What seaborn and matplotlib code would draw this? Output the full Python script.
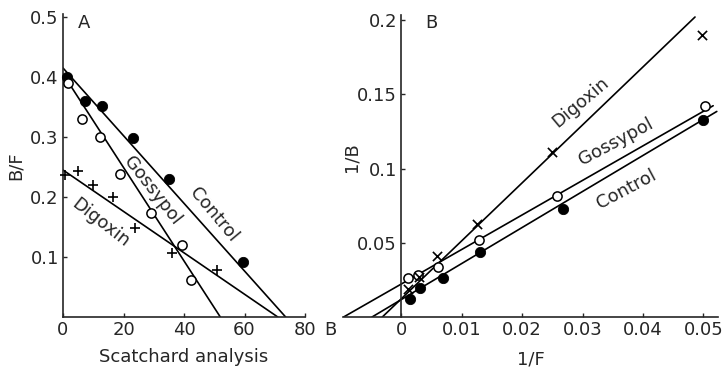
import numpy as np
import matplotlib
matplotlib.use("Agg")
import matplotlib.pyplot as plt
import matplotlib.transforms as mtransforms
import seaborn as sns

# Panel A: Scatchard analysis (B vs B/F)
a_control_b = [1.3, 7.3, 12.8, 23.0, 35.0, 59.5]
a_control_bf = [0.40, 0.36, 0.352, 0.298, 0.23, 0.092]
a_gossypol_b = [1.7, 6.2, 12.2, 18.8, 29.0, 39.4, 42.4]
a_gossypol_bf = [0.39, 0.33, 0.30, 0.238, 0.173, 0.12, 0.062]
a_digoxin_b = [0.7, 5.0, 10.0, 16.6, 23.8, 36.0, 51.0]
a_digoxin_bf = [0.237, 0.243, 0.22, 0.20, 0.148, 0.107, 0.078]
# fitted lines: (B/F intercept, B intercept)
a_lines = {"Control": (0.415, 73.6), "Gossypol": (0.405, 52.0), "Digoxin": (0.245, 71.0)}

# Panel B: double reciprocal (1/F vs 1/B)
b_control_x = [0.0015, 0.0031, 0.0069, 0.013, 0.0268, 0.05]
b_control_y = [0.012, 0.0195, 0.026, 0.044, 0.073, 0.133]
b_gossypol_x = [0.0012, 0.0028, 0.0061, 0.0129, 0.0258, 0.0502]
b_gossypol_y = [0.026, 0.028, 0.034, 0.052, 0.0815, 0.142]
b_digoxin_x = [0.0012, 0.003, 0.006, 0.0126, 0.025, 0.0497]
b_digoxin_y = [0.019, 0.027, 0.041, 0.063, 0.111, 0.19]
# fitted lines: (x intercept, slope, end x)
b_lines = {"Control": (-0.0048, 2.43, 0.0522), "Gossypol": (-0.0095, 2.33, 0.0516),
           "Digoxin": (-0.0031, 3.91, 0.0486)}

sns.set_style("ticks")
plt.rcParams["font.family"] = ["DejaVu Sans"]
FS = 13

fig = plt.figure(figsize=(7.24, 3.69), dpi=100)
W, H = 724, 369

def px_axes(x0, x1, y_top, y_bot):
    return fig.add_axes([x0 / W, 1 - y_bot / H, (x1 - x0) / W, (y_bot - y_top) / H])

lw = 1.2
ms = 55

# ---- Panel A ----
ax = px_axes(63, 305, 14, 317)
ax.set_xlim(0, 80)
ax.set_ylim(0, 0.505)
for name, (yi, xi) in a_lines.items():
    sns.lineplot(x=[0, xi], y=[yi, 0], ax=ax, color="black", lw=lw)
sns.scatterplot(x=a_control_b, y=a_control_bf, ax=ax, color="black", s=ms, marker="o",
                edgecolor="black", clip_on=False, zorder=3)
sns.scatterplot(x=a_gossypol_b, y=a_gossypol_bf, ax=ax, color="white", s=ms * 0.8, marker="o",
                edgecolor="black", linewidth=1.1, clip_on=False, zorder=3)
sns.scatterplot(x=a_digoxin_b, y=a_digoxin_bf, ax=ax, color="black", s=ms, marker="+",
                linewidth=1.2, clip_on=False, zorder=3)
ax.set_xticks([0, 20, 40, 60, 80])
ax.set_yticks([0.1, 0.2, 0.3, 0.4, 0.5])
ax.set_yticklabels(["0.1", "0.2", "0.3", "0.4", "0.5"])
ax.tick_params(direction="in", length=3, width=1, labelsize=FS, pad=3)
sns.despine(ax=ax)
for s in ("left", "bottom"):
    ax.spines[s].set_linewidth(lw)
ax.set_ylabel("B/F", fontsize=FS, labelpad=4)
ax.set_xlabel("Scatchard analysis", fontsize=FS, labelpad=6)
# the "B" unit label sits right after the 80 tick label
b_trans = mtransforms.offset_copy(ax.transData, fig=fig, x=0, y=-3, units="points")
ax.text(88.5, 0, "B", fontsize=FS, ha="center", va="top", transform=b_trans)
ax.text(7, 0.49, "A", fontsize=FS, ha="center", va="center")
ax.text(50, 0.17, "Control", fontsize=FS, rotation=-50, ha="center", va="center")
ax.text(29.5, 0.21, "Gossypol", fontsize=FS, rotation=-52, ha="center", va="center")
ax.text(12.3, 0.157, "Digoxin", fontsize=FS, rotation=-38, ha="center", va="center")

# ---- Panel B ----
bx = px_axes(343, 718, 15, 317)
bx.set_xlim(-0.0096, 0.0524)
bx.set_ylim(0, 0.2035)
for name, (x0, k, x1) in b_lines.items():
    sns.lineplot(x=[x0, x1], y=[0, k * (x1 - x0)], ax=bx, color="black", lw=lw)
sns.scatterplot(x=b_control_x, y=b_control_y, ax=bx, color="black", s=ms, marker="o",
                edgecolor="black", clip_on=False, zorder=3)
sns.scatterplot(x=b_gossypol_x, y=b_gossypol_y, ax=bx, color="white", s=ms * 0.8, marker="o",
                edgecolor="black", linewidth=1.1, clip_on=False, zorder=3)
sns.scatterplot(x=b_digoxin_x, y=b_digoxin_y, ax=bx, color="black", s=ms * 0.8, marker="x",
                linewidth=1.2, clip_on=False, zorder=3)
bx.spines["left"].set_position(("data", 0))
sns.despine(ax=bx)
for s in ("left", "bottom"):
    bx.spines[s].set_linewidth(lw)
bx.set_xticks([0, 0.01, 0.02, 0.03, 0.04, 0.05])
bx.set_xticklabels(["0", "0.01", "0.02", "0.03", "0.04", "0.05"])
bx.set_yticks([0.05, 0.1, 0.15, 0.2])
bx.set_yticklabels(["0.05", "0.1", "0.15", "0.2"])
bx.tick_params(direction="in", length=3, width=1, labelsize=FS, pad=3)
bx.set_xlabel("1/F", fontsize=FS, labelpad=8)
fig.text(352 / W, 1 - 157 / H, "1/B", fontsize=FS, rotation=90, ha="center", va="center")
bx.text(0.005, 0.198, "B", fontsize=FS, ha="center", va="center")
bx.text(0.0296, 0.145, "Digoxin", fontsize=FS, rotation=40, ha="center", va="center")
bx.text(0.0356, 0.118, "Gossypol", fontsize=FS, rotation=28, ha="center", va="center")
bx.text(0.0372, 0.086, "Control", fontsize=FS, rotation=28, ha="center", va="center")

fig.savefig("out.png", dpi=100, facecolor="white")
